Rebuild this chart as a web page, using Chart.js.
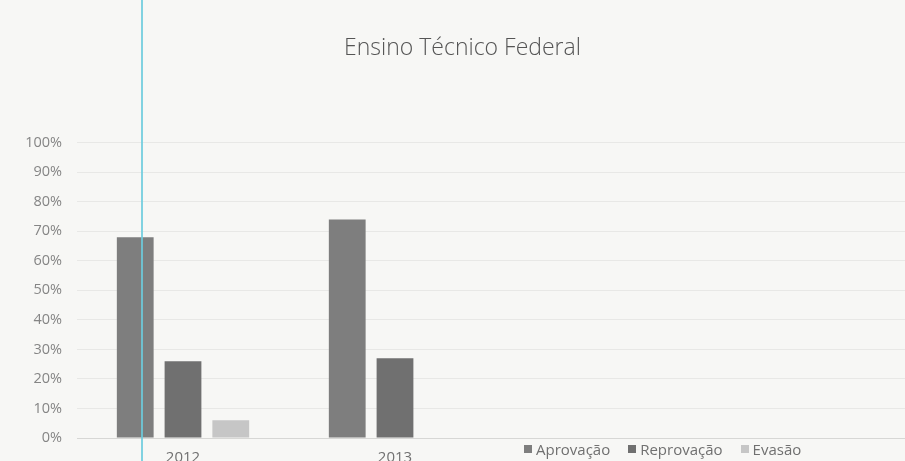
<!DOCTYPE html>
<html>
<head>
<meta charset="utf-8">
<script src="https://cdn.jsdelivr.net/npm/chart.js@4/dist/chart.umd.min.js"></script>
<style>
  html, body { margin: 0; padding: 0; background: #f7f7f5; }
  #wrap { position: relative; width: 905px; height: 461px; overflow: hidden; background: #f7f7f5; }
  #c { position: absolute; left: 0; top: 0; }
  #legend { position: absolute; left: 524px; top: 439px; display: flex; align-items: center;
            font-family: "Open Sans", sans-serif; font-size: 15px; color: #707070; }
  #legend .item { display: flex; align-items: center; margin-right: 18px; }
  #legend .sw { width: 8px; height: 8px; margin-right: 4px; }
  #scanline { position: absolute; left: 141px; top: 0; width: 2px; height: 461px; background: #6ccbdd; opacity: 0.85; }
</style>
</head>
<body>
<div id="wrap">
  <canvas id="c" width="925" height="480"></canvas>
  <div id="legend"></div>
  <div id="scanline"></div>
</div>
<script>
const categories = ['2012', '2013', '', ''];
const seriesNames = ['Aprovação', 'Reprovação', 'Evasão'];
const aprovacao = [68, 74, null, null];
const reprovacao = [26, 27, null, null];
const evasao = [6, null, null, null];
const yTicks = [0, 10, 20, 30, 40, 50, 60, 70, 80, 90, 100];
const colors = ['#7e7e7e', '#707070', '#c6c6c6'];
const chartTitle = 'Ensino Técnico Federal';

const seriesValues = [aprovacao, reprovacao, evasao];
const datasets = seriesNames.map((n, i) => ({
  label: n,
  data: seriesValues[i],
  backgroundColor: colors[i],
  borderWidth: 0,
  categoryPercentage: 0.676,
  barPercentage: 0.77
}));

const chart = new Chart(document.getElementById('c'), {
  type: 'bar',
  data: { labels: categories, datasets },
  options: {
    responsive: false,
    animation: false,
    devicePixelRatio: 1,
    layout: { padding: 0 },
    plugins: {
      legend: { display: false },
      tooltip: { enabled: false },
      title: {
        display: true,
        text: chartTitle,
        color: '#555555',
        font: { family: 'Open Sans', size: 23, weight: '300' },
        padding: { top: 35, bottom: 80 }
      }
    },
    scales: {
      x: {
        grid: { display: false, drawTicks: false },
        border: { display: true, color: 'rgba(0,0,0,0.08)' },
        ticks: { color: '#707070', font: { family: 'Open Sans', size: 15 }, padding: 11, maxRotation: 0 },
        afterFit: s => { s.height = 42; }
      },
      y: {
        min: 0, max: 100,
        afterBuildTicks: s => { s.ticks = yTicks.map(v => ({ value: v })); },
        grid: { color: 'rgba(0,0,0,0.06)', drawTicks: false },
        border: { display: false },
        ticks: { color: '#858585', font: { family: 'Open Sans', size: 14.5 }, padding: 15,
                 callback: v => v + '%' },
        afterFit: s => { s.width = 77; }
      }
    }
  }
});

const legend = document.getElementById('legend');
chart.data.datasets.forEach(ds => {
  const item = document.createElement('div');
  item.className = 'item';
  const sw = document.createElement('span');
  sw.className = 'sw';
  sw.style.background = ds.backgroundColor;
  const t = document.createElement('span');
  t.textContent = ds.label;
  item.appendChild(sw);
  item.appendChild(t);
  legend.appendChild(item);
});
</script>
</body>
</html>
